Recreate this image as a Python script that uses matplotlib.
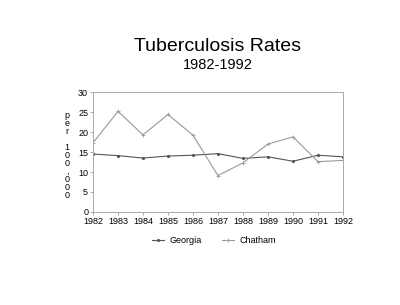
import matplotlib
matplotlib.use("Agg")
import matplotlib.pyplot as plt
from matplotlib.lines import Line2D

plt.rcParams['font.family'] = ['Liberation Sans', 'DejaVu Sans']

years = [1982, 1983, 1984, 1985, 1986, 1987, 1988, 1989, 1990, 1991, 1992]
georgia = [14.5, 14.1, 13.5, 14.0, 14.2, 14.6, 13.4, 13.8, 12.7, 14.2, 13.8]
chatham = [17.3, 25.2, 19.3, 24.4, 19.2, 9.1, 12.3, 17.0, 18.8, 12.6, 12.9]

fig = plt.figure(figsize=(4, 3.05), dpi=100)
ax = fig.add_axes([0.2325, 0.305, 0.625, 0.393])

ax.plot(years, georgia, color='#555555', lw=0.8, marker='.', ms=2.5)
ax.plot(years, chatham, color='#999999', lw=0.8, marker='+', ms=3, mew=0.6)

ax.set_xlim(1982, 1992)
ax.set_ylim(0, 30)
ax.set_xticks(years)
ax.set_yticks(range(0, 31, 5))
ax.tick_params(labelsize=6.5, length=2, width=0.5, color='#888888', pad=1.5)
for s in ax.spines.values():
    s.set_color('#aaaaaa')
    s.set_linewidth(0.7)

# stacked vertical label
fig.text(0.168, 0.49, "p\ne\nr\n\n1\n0\n0\n,\n0\n0\n0", fontsize=6.5,
         ha='center', va='center', linespacing=0.85)

fig.text(0.543, 0.832, "Tuberculosis Rates", fontsize=14, ha='center')
fig.text(0.545, 0.775, "1982-1992", fontsize=10.5, ha='center')

handles = [Line2D([], [], color='#555555', lw=0.8, marker='.', ms=2.5),
           Line2D([], [], color='#999999', lw=0.8, marker='+', ms=3, mew=0.6)]
fig.legend(handles, ['Georgia', 'Chatham'], loc='center', bbox_to_anchor=(0.535, 0.21),
           ncol=2, frameon=False, fontsize=6.5, handlelength=1.4, handletextpad=0.6,
           columnspacing=2.2)

fig.savefig("out.png", dpi=100)
